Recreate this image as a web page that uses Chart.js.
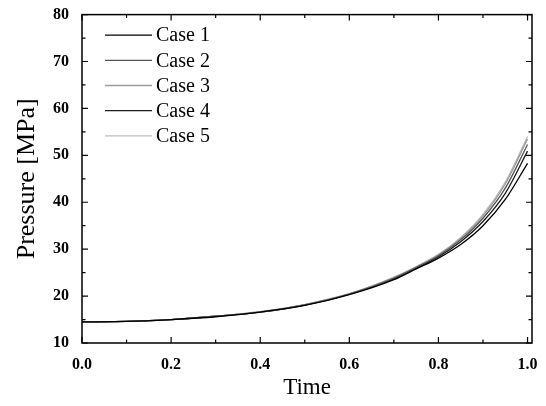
<!DOCTYPE html>
<html lang="en">
<head>
<meta charset="UTF-8">
<title>Pressure vs Time</title>
<script src="https://cdn.jsdelivr.net/npm/chart.js"></script>
<style>
    html, body { margin: 0; padding: 0; background: #fff; }
    #wrap { position: relative; width: 546px; height: 406px; }
</style>
</head>
<body>
<div id="wrap"><canvas id="pressureChart"></canvas></div>
<script>
    // time samples and pressure for each case [MPa]
    const times = [0, 0.1, 0.2, 0.3, 0.4, 0.5, 0.6, 0.7, 0.75, 0.8, 0.85, 0.9, 0.95, 1.0];
    const case1 = [14.5, 14.6, 15.0, 15.6, 16.6, 18.0, 20.3, 23.5, 25.8, 28.1, 31.0, 35.0, 40.6, 48.3];
    const case2 = [14.5, 14.6, 15.0, 15.7, 16.6, 18.1, 20.4, 23.8, 26.1, 28.6, 32.0, 36.6, 43.0, 52.3];
    const case3 = [14.5, 14.6, 15.0, 15.7, 16.7, 18.2, 20.5, 24.0, 26.2, 28.8, 32.3, 37.1, 43.9, 53.5];
    const case4 = [14.5, 14.6, 15.0, 15.7, 16.6, 18.1, 20.4, 23.7, 26.0, 28.4, 31.6, 35.9, 41.9, 50.9];
    const case5 = [14.5, 14.6, 15.0, 15.7, 16.7, 18.2, 20.5, 24.0, 26.3, 28.9, 32.5, 37.4, 44.3, 54.0];

    const caseNames = ['Case 1', 'Case 2', 'Case 3', 'Case 4', 'Case 5'];
    const caseValues = [case1, case2, case3, case4, case5];
    const caseColors = ['#000000', '#555555', '#9a9a9a', '#1a1a1a', '#bdbdbd'];

    const xTicks = [0.0, 0.2, 0.4, 0.6, 0.8, 1.0];
    const yTicks = [10, 20, 30, 40, 50, 60, 70, 80];

    const serif = "'Liberation Serif', 'Times New Roman', serif";

    // inward major/minor ticks on all four sides plus the frame
    const frameTicks = {
        id: 'frameTicks',
        afterDraw(chart) {
            const { ctx, chartArea: a, scales: { x, y } } = chart;
            ctx.save();
            ctx.strokeStyle = '#000';
            ctx.lineWidth = 1.5;
            ctx.strokeRect(a.left, a.top, a.right - a.left, a.bottom - a.top);
            ctx.lineWidth = 1.2;
            ctx.beginPath();
            for (let i = 0; i < xTicks.length; i++) {
                const px = x.getPixelForValue(xTicks[i]);
                ctx.moveTo(px, a.bottom); ctx.lineTo(px, a.bottom - 6);
                ctx.moveTo(px, a.top); ctx.lineTo(px, a.top + 6);
                if (i < xTicks.length - 1) {
                    const mx = x.getPixelForValue((xTicks[i] + xTicks[i + 1]) / 2);
                    ctx.moveTo(mx, a.bottom); ctx.lineTo(mx, a.bottom - 3.5);
                    ctx.moveTo(mx, a.top); ctx.lineTo(mx, a.top + 3.5);
                }
            }
            for (let i = 0; i < yTicks.length; i++) {
                const py = y.getPixelForValue(yTicks[i]);
                ctx.moveTo(a.left, py); ctx.lineTo(a.left + 6, py);
                ctx.moveTo(a.right, py); ctx.lineTo(a.right - 6, py);
                if (i < yTicks.length - 1) {
                    const my = y.getPixelForValue((yTicks[i] + yTicks[i + 1]) / 2);
                    ctx.moveTo(a.left, my); ctx.lineTo(a.left + 3.5, my);
                    ctx.moveTo(a.right, my); ctx.lineTo(a.right - 3.5, my);
                }
            }
            ctx.stroke();
            ctx.restore();
        }
    };

    // legend box in the top-left corner of the plot
    const insideLegend = {
        id: 'insideLegend',
        afterDraw(chart) {
            const { ctx, chartArea: a } = chart;
            ctx.save();
            ctx.font = '20px ' + serif;
            ctx.textBaseline = 'middle';
            ctx.fillStyle = '#000';
            chart.data.datasets.forEach((ds, i) => {
                const yy = a.top + 20.5 + i * 25.2;
                ctx.strokeStyle = ds.borderColor;
                ctx.lineWidth = 1.3;
                ctx.beginPath();
                ctx.moveTo(a.left + 23, yy);
                ctx.lineTo(a.left + 70, yy);
                ctx.stroke();
                ctx.fillText(ds.label, a.left + 74, yy + 1);
            });
            ctx.restore();
        }
    };

    new Chart(document.getElementById('pressureChart'), {
        type: 'line',
        data: {
            datasets: caseValues.map((vals, i) => ({
                label: caseNames[i],
                data: times.map((t, j) => ({ x: t, y: vals[j] })),
                borderColor: caseColors[i],
                borderWidth: 1.3,
                pointRadius: 0,
                cubicInterpolationMode: 'monotone',
                fill: false
            }))
        },
        options: {
            responsive: true,
            maintainAspectRatio: false,
            animation: false,
            layout: { padding: { top: 12.6, right: 14, left: 0, bottom: 0 } },
            plugins: { legend: { display: false }, tooltip: { enabled: false } },
            scales: {
                x: {
                    type: 'linear',
                    min: 0,
                    max: 1.01,
                    afterBuildTicks: s => { s.ticks = xTicks.map(v => ({ value: v })); },
                    afterFit: s => { s.height = 63; },
                    grid: { display: false },
                    border: { display: false },
                    ticks: {
                        color: '#000',
                        padding: 4,
                        maxRotation: 0,
                        font: { family: serif, size: 16, weight: 'bold' },
                        callback: v => v.toFixed(1)
                    },
                    title: {
                        display: true,
                        text: 'Time',
                        color: '#000',
                        font: { family: serif, size: 23 },
                        padding: { top: 10 }
                    }
                },
                y: {
                    min: 10,
                    max: 80,
                    afterBuildTicks: s => { s.ticks = yTicks.map(v => ({ value: v })); },
                    afterFit: s => { s.width = 82; },
                    grid: { display: false },
                    border: { display: false },
                    ticks: {
                        color: '#000',
                        padding: 5,
                        font: { family: serif, size: 16, weight: 'bold' }
                    },
                    title: {
                        display: true,
                        text: 'Pressure [MPa]',
                        color: '#000',
                        font: { family: serif, size: 26 },
                        padding: { top: 12, bottom: 0 }
                    }
                }
            }
        },
        plugins: [frameTicks, insideLegend]
    });
</script>
</body>
</html>
